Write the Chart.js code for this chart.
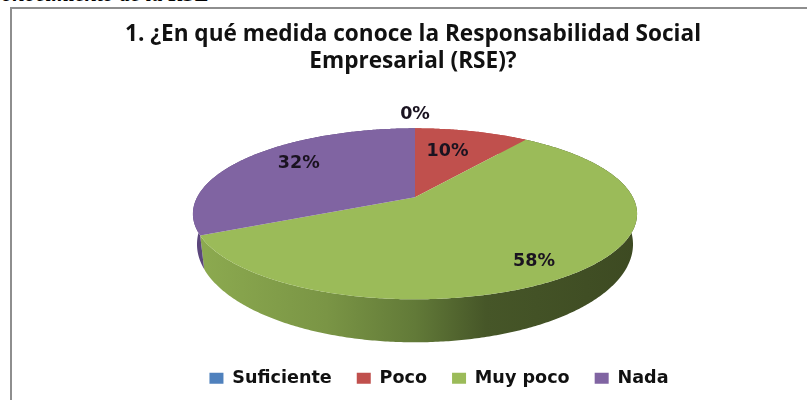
<!DOCTYPE html>
<html>
<head>
<meta charset="utf-8">
<script src="https://cdn.jsdelivr.net/npm/chart.js@4/dist/chart.umd.js"></script>
<style>
    html, body { margin: 0; padding: 0; background: #fff; overflow: hidden; }
    #heading {
        position: absolute; left: 0; top: -19px; width: 210px; height: 26px;
        overflow: hidden; white-space: nowrap; text-align: right;
        font: italic bold 22px "Liberation Serif", serif; color: #000;
        direction: rtl;
    }
    #frame {
        position: absolute; left: 10px; top: 7px; width: 797px; height: 393px;
        box-sizing: border-box; border-left: 2px solid #8e8e8e; border-top: 2px solid #8e8e8e;
    }
    canvas { position: absolute; left: 0; top: 0; }
</style>
</head>
<body>
<div id="heading">Conocimiento de la RSE</div>
<div id="frame"></div>
<canvas id="pieChart" width="807" height="400"></canvas>
<script>
// Survey answers
const categories = ['Suficiente', 'Poco', 'Muy poco', 'Nada'];
const percentages = [0, 10, 58, 32];
const sliceColors = ['#4f81bd', '#c0504d', '#9bbb59', '#8064a2'];
const titleLines = ['1. ¿En qué medida conoce la Responsabilidad Social', 'Empresarial (RSE)?'];

// Tilted disc: k is the perspective strength, top and bottom are the two rims
const PERSPECTIVE = -0.193;
const topRim = { sx: 2.179, sy: 0.823, drop: 0 };
const bottomRim = { sx: 2.139, sy: 0.944, drop: 28 };

// Where each percentage sits: fraction of the radius plus a small nudge
const labelSpots = [
    { r: 1.25, dx: 0, dy: 0 },
    { r: 0.62, dx: -5, dy: -2 },
    { r: 0.76, dx: 0, dy: 10 },
    { r: 0.67, dx: -1, dy: -6 }
];

function rimPoint(arc, angle, rim, r = 1) {
    const w = 1 + PERSPECTIVE * r * Math.sin(angle);
    return {
        x: arc.x + arc.outerRadius * rim.sx * r * Math.cos(angle) / w,
        y: arc.y + rim.drop + arc.outerRadius * rim.sy * r * Math.sin(angle) / w
    };
}

function traceRim(ctx, arc, from, to, rim) {
    const steps = Math.max(2, Math.ceil(Math.abs(to - from) / 0.01));
    for (let i = 0; i <= steps; i++) {
        const p = rimPoint(arc, from + (to - from) * i / steps, rim);
        ctx.lineTo(p.x, p.y);
    }
}

// Pie slice drawn on the tilted disc instead of a flat circle
class TiltedArc extends Chart.ArcElement {
    static id = 'tiltedArc';

    draw(ctx) {
        if (this.circumference <= 0) return;
        ctx.save();
        ctx.fillStyle = this.options.backgroundColor;
        ctx.beginPath();
        ctx.moveTo(this.x, this.y);
        traceRim(ctx, this, this.startAngle, this.endAngle, topRim);
        ctx.closePath();
        ctx.fill();
        ctx.restore();
    }
}

class TiltedPie extends Chart.PieController {
    static id = 'tiltedPie';
    static defaults = { dataElementType: 'tiltedArc' };
}

Chart.register(TiltedArc, TiltedPie);

function wallFill(ctx, arc, index) {
    if (index === 3) return '#5b467c';
    if (index !== 2) return arc.options.backgroundColor;
    const grad = ctx.createLinearGradient(193, 0, 637, 0);
    grad.addColorStop(0, '#8dab50');
    grad.addColorStop(0.3, '#7a9545');
    grad.addColorStop(0.5, '#627a38');
    grad.addColorStop(0.66, '#465628');
    grad.addColorStop(1, '#3d4a22');
    return grad;
}

// Side of the disc, painted under the slices
const discWall = {
    id: 'discWall',
    beforeDatasetsDraw(chart) {
        const ctx = chart.ctx;
        chart.getDatasetMeta(0).data.forEach((arc, i) => {
            if (arc.circumference <= 0) return;
            ctx.save();
            ctx.fillStyle = wallFill(ctx, arc, i);
            ctx.beginPath();
            traceRim(ctx, arc, arc.startAngle, arc.endAngle, topRim);
            traceRim(ctx, arc, arc.endAngle, arc.startAngle, bottomRim);
            ctx.closePath();
            ctx.fill();
            ctx.restore();
        });
    }
};

// Percent labels on top of the slices
const percentLabels = {
    id: 'percentLabels',
    afterDatasetsDraw(chart) {
        const ctx = chart.ctx;
        ctx.save();
        ctx.font = 'bold 17.5px "DejaVu Sans"';
        ctx.fillStyle = '#1a1320';
        ctx.textAlign = 'center';
        ctx.textBaseline = 'middle';
        chart.getDatasetMeta(0).data.forEach((arc, i) => {
            const mid = (arc.startAngle + arc.endAngle) / 2;
            const spot = labelSpots[i];
            const p = rimPoint(arc, mid, topRim, spot.r);
            ctx.fillText(percentages[i] + '%', p.x + spot.dx, p.y + spot.dy);
        });
        ctx.restore();
    }
};

// The title and legend are not centred on the pie
const blockNudge = {
    id: 'blockNudge',
    afterLayout(chart) {
        chart.legend.left += 24;
        chart.legend.right += 24;
        chart.titleBlock.left -= 2;
        chart.titleBlock.right -= 2;
    }
};

new Chart(document.getElementById('pieChart'), {
    type: 'tiltedPie',
    data: {
        labels: categories,
        datasets: [{ data: percentages, backgroundColor: sliceColors, borderWidth: 0, radius: 100 }]
    },
    plugins: [discWall, percentLabels, blockNudge],
    options: {
        responsive: false,
        animation: false,
        layout: { padding: { left: 23, bottom: 3 } },
        plugins: {
            title: {
                display: true,
                text: titleLines,
                color: '#111',
                font: { family: '"Open Sans"', weight: 'bold', size: 22.6, lineHeight: 1.2 },
                padding: { top: 21, bottom: -25 }
            },
            legend: {
                position: 'bottom',
                labels: {
                    boxWidth: 14,
                    boxHeight: 11,
                    padding: 25,
                    color: '#111',
                    font: { family: '"DejaVu Sans"', weight: 'bold', size: 17.6, lineHeight: 1 }
                }
            },
            tooltip: { enabled: false }
        }
    }
});
</script>
</body>
</html>
